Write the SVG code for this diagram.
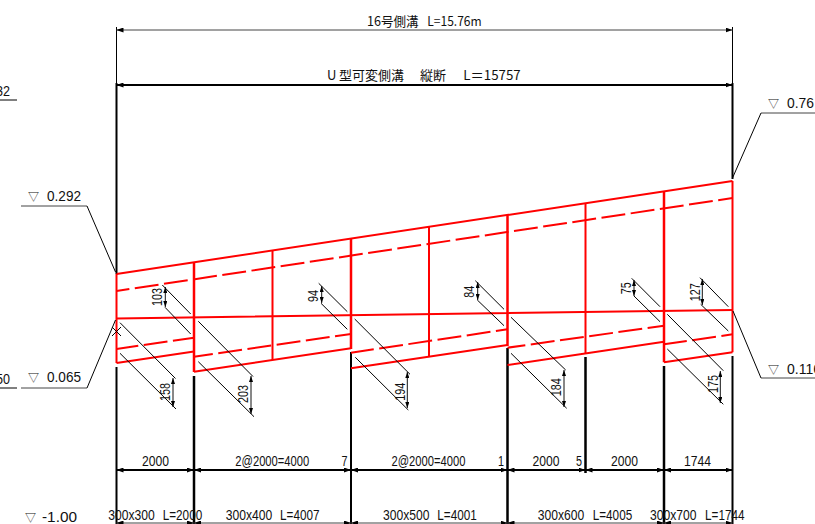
<svg xmlns="http://www.w3.org/2000/svg" width="815" height="524" viewBox="0 0 815 524">
<style>
text{font-family:"Liberation Sans","Noto Sans CJK JP",sans-serif;font-size:14.5px;fill:#111;text-anchor:middle}
.s{text-anchor:start}
.jp{font-family:"Noto Sans CJK JP","Liberation Sans",sans-serif;font-size:13px;text-anchor:start}
.v{font-size:11px}
.l{fill:none;stroke:#000;stroke-width:1}
.g{fill:none;stroke:#444;stroke-width:1}
.h{fill:none;stroke:#000;stroke-width:2.5}
.m{fill:none;stroke:#000;stroke-width:2}
.r{fill:none;stroke:#f00;stroke-width:2}
.rt{fill:none;stroke:#f00;stroke-width:2.5}
.d{fill:none;stroke:#f00;stroke-width:2;stroke-dasharray:24 5.5}
.a{fill:none;stroke:#111;stroke-width:1;marker-start:url(#ah);marker-end:url(#ah)}
.b{fill:none;stroke:#000;stroke-width:2;marker-start:url(#ah2);marker-end:url(#ah2)}
.t{fill:none;stroke:#444;stroke-width:1;marker-start:url(#ah2);marker-end:url(#ah2)}
</style>
<defs>
<marker id="ah" viewBox="0 0 6 4" refX="6" refY="2" markerWidth="6" markerHeight="4" markerUnits="userSpaceOnUse" orient="auto-start-reverse"><path d="M0 0L6 2L0 4Z" fill="#000"/></marker>
<marker id="ah2" viewBox="0 0 7 5" refX="7" refY="2.5" markerWidth="7" markerHeight="5" markerUnits="userSpaceOnUse" orient="auto-start-reverse"><path d="M0 0L7 2.5L0 5Z" fill="#000"/></marker>
</defs>
<g id="black-structure">
<path class="l" d="M116.5 27V85M732.5 27V85"/>
<path class="m" d="M116.5 83V274M732.5 83V179M116.5 367V524M351 352V524M732.5 356V524"/>
<path class="h" d="M194 376V524M507.5 348V524M585.5 357V473M664 366V524"/>
</g>
<g id="red-section">
<path class="r" d="M116.5 274L732.5 181M116.5 318.5L732.5 310M116.5 363L194 351.5M194 371.7L351 348.3M351 368.3L507.5 345M507.5 365L664 341.7M664 362.3L732.5 352.3"/>
<path class="d" style="stroke-dashoffset:11" d="M116.5 291L732.5 198"/>
<path class="d" style="stroke-dashoffset:2" d="M116.5 349L194 337.7"/>
<path class="d" style="stroke-dashoffset:5" d="M194 356.7L351 334"/>
<path class="d" style="stroke-dashoffset:1" d="M351 352.7L507.5 329.3"/>
<path class="d" style="stroke-dashoffset:6" d="M507.5 347.7L664 325.7"/>
<path class="d" style="stroke-dashoffset:1" d="M664 344.3L732.5 334.3"/>
<path class="r" d="M116.5 274V363M272.5 250V360M429 226.5V356.5M585.5 203V353.7M732.5 181V352.3"/>
<path class="rt" d="M194 262V372M351 238V349M507.5 215V346M664 191.5V362.3"/>
</g>
<g id="connectors">
<path class="t" d="M116.5 30H732.5"/>
<path class="b" d="M116.5 85H732.5"/>
<path class="b" d="M116.5 470H194"/><path class="b" d="M194 470H351"/><path class="b" d="M351 470H507.5"/><path class="b" d="M507.5 470H585.5"/><path class="b" d="M585.5 470H664"/><path class="b" d="M664 470H732.5"/>
<path class="t" d="M116.5 523H194"/><path class="t" d="M194 523H351"/><path class="t" d="M351 523H507.5"/><path class="t" d="M507.5 523H664"/><path class="t" d="M664 523H732.5"/>
<path class="g" d="M21 206H87"/><path class="l" d="M87 206L115.5 272"/>
<path class="g" d="M21 388H87"/><path class="l" d="M87 388L115.5 320"/>
<path class="g" d="M761 113H815"/><path class="l" d="M761 113L732.5 178"/>
<path class="g" d="M761 378H815"/><path class="l" d="M761 378L733 311"/>
<path class="l" d="M0 100H17M0 388H17"/>
<path class="l" d="M112 327L121 336M121 327L112 336"/>
</g>
<g id="dim-103"><path class="l" d="M162.3 285L190.7 314M165 307.3L190.7 334"/><path class="a" d="M165.3 287V307"/><text transform="translate(157 297) rotate(-90)" y="5" textLength="18" lengthAdjust="spacingAndGlyphs">103</text></g>
<g id="dim-158"><path class="l" d="M120 322.7L175.5 378.5M120 353.3L176 409"/><path class="a" d="M173 378V407"/><text transform="translate(165 392) rotate(-90)" y="5" textLength="18" lengthAdjust="spacingAndGlyphs">158</text></g>
<g id="dim-203"><path class="l" d="M198.3 321.3L253 376.5M198.3 361.7L254 416.7"/><path class="a" d="M251 376V414"/><text transform="translate(243 394) rotate(-90)" y="5" textLength="18" lengthAdjust="spacingAndGlyphs">203</text></g>
<g id="dim-94"><path class="l" d="M318.7 283.3L347.3 311.7M321 303.3L347.3 329.3"/><path class="a" d="M321.7 286V303"/><text transform="translate(313.3 296) rotate(-90)" y="5" textLength="12" lengthAdjust="spacingAndGlyphs">94</text></g>
<g id="dim-194"><path class="l" d="M354.7 319L410 374.3M355.3 357.3L408.3 410"/><path class="a" d="M407.3 372V408"/><text transform="translate(400 391.7) rotate(-90)" y="5" textLength="18" lengthAdjust="spacingAndGlyphs">194</text></g>
<g id="dim-84"><path class="l" d="M475.3 280.7L504 309.3M477.3 300L504 325.7"/><path class="a" d="M477.7 282V300"/><text transform="translate(469 291.7) rotate(-90)" y="5" textLength="12" lengthAdjust="spacingAndGlyphs">84</text></g>
<g id="dim-184"><path class="l" d="M511 317.3L565.7 370M511 353.3L566.7 408.3"/><path class="a" d="M564 370V407"/><text transform="translate(555.7 387.3) rotate(-90)" y="5" textLength="18" lengthAdjust="spacingAndGlyphs">184</text></g>
<g id="dim-75"><path class="l" d="M631.7 278.3L660 306.7M634 296L660 321.7"/><path class="a" d="M634 280V296"/><text transform="translate(626 288.3) rotate(-90)" y="5" textLength="12" lengthAdjust="spacingAndGlyphs">75</text></g>
<g id="dim-127"><path class="l" d="M700 277.7L728.3 306.7M700.7 304.3L728.3 331"/><path class="a" d="M702.3 279V305"/><text transform="translate(695 292.3) rotate(-90)" y="5" textLength="18" lengthAdjust="spacingAndGlyphs">127</text></g>
<g id="dim-175"><path class="l" d="M667.3 314.3L723.3 370.7M667.3 349L723.3 404.3"/><path class="a" d="M720.3 371V403"/><text transform="translate(713.3 384) rotate(-90)" y="5" textLength="18" lengthAdjust="spacingAndGlyphs">175</text></g>
<g id="titles">
<text class="jp" y="25.5"><tspan x="367" textLength="51.5" lengthAdjust="spacingAndGlyphs">16号側溝</tspan> <tspan x="427.3" textLength="54.4" lengthAdjust="spacingAndGlyphs">L=15.76m</tspan></text>
<text class="jp" y="80"><tspan x="327">U</tspan><tspan x="339">型可変側溝</tspan> <tspan x="420">縦断</tspan> <tspan x="463.3" textLength="57.4" lengthAdjust="spacingAndGlyphs">L＝15757</tspan></text>
</g>
<g id="levels">
<text x="3" y="96" textLength="14" lengthAdjust="spacingAndGlyphs">32</text>
<text class="s" y="201"><tspan class="v" x="28">▽</tspan> <tspan x="47" textLength="34" lengthAdjust="spacingAndGlyphs">0.292</tspan></text>
<text class="s" y="382"><tspan class="v" x="28">▽</tspan> <tspan x="47" textLength="34" lengthAdjust="spacingAndGlyphs">0.065</tspan></text>
<text x="3" y="384" textLength="14" lengthAdjust="spacingAndGlyphs">50</text>
<text class="s" y="108"><tspan class="v" x="768">▽</tspan> <tspan x="787" textLength="27" lengthAdjust="spacingAndGlyphs">0.76</tspan></text>
<text class="s" y="373.5"><tspan class="v" x="768">▽</tspan> <tspan x="787" textLength="34" lengthAdjust="spacingAndGlyphs">0.116</tspan></text>
<text class="s" y="521.5"><tspan class="v" x="25">▽</tspan> <tspan x="42" textLength="35" lengthAdjust="spacingAndGlyphs">-1.00</tspan></text>
</g>
<g id="span-labels">
<text x="155.5" y="465.5" textLength="27" lengthAdjust="spacingAndGlyphs">2000</text>
<text x="272.3" y="465.5" textLength="74" lengthAdjust="spacingAndGlyphs">2@2000=4000</text>
<text x="344.5" y="465.5" textLength="6" lengthAdjust="spacingAndGlyphs">7</text>
<text x="428.5" y="465.5" textLength="74" lengthAdjust="spacingAndGlyphs">2@2000=4000</text>
<text x="501" y="465.5" textLength="6" lengthAdjust="spacingAndGlyphs">1</text>
<text x="546" y="465.5" textLength="27" lengthAdjust="spacingAndGlyphs">2000</text>
<text x="579" y="465.5" textLength="6" lengthAdjust="spacingAndGlyphs">5</text>
<text x="624.5" y="465.5" textLength="27" lengthAdjust="spacingAndGlyphs">2000</text>
<text x="697.5" y="465.5" textLength="27" lengthAdjust="spacingAndGlyphs">1744</text>
<text class="s" y="520"><tspan x="108.3" textLength="46.5" lengthAdjust="spacingAndGlyphs">300x300</tspan> <tspan x="162.7" textLength="39.5" lengthAdjust="spacingAndGlyphs">L=2000</tspan></text>
<text class="s" y="520"><tspan x="225.7" textLength="46.5" lengthAdjust="spacingAndGlyphs">300x400</tspan> <tspan x="280" textLength="39.5" lengthAdjust="spacingAndGlyphs">L=4007</tspan></text>
<text class="s" y="520"><tspan x="383" textLength="46.5" lengthAdjust="spacingAndGlyphs">300x500</tspan> <tspan x="437.3" textLength="39.5" lengthAdjust="spacingAndGlyphs">L=4001</tspan></text>
<text class="s" y="520"><tspan x="537.7" textLength="46.5" lengthAdjust="spacingAndGlyphs">300x600</tspan> <tspan x="592.7" textLength="39.5" lengthAdjust="spacingAndGlyphs">L=4005</tspan></text>
<text class="s" y="520"><tspan x="650" textLength="46.5" lengthAdjust="spacingAndGlyphs">300x700</tspan> <tspan x="705" textLength="39.5" lengthAdjust="spacingAndGlyphs">L=1744</tspan></text>
</g>
</svg>
